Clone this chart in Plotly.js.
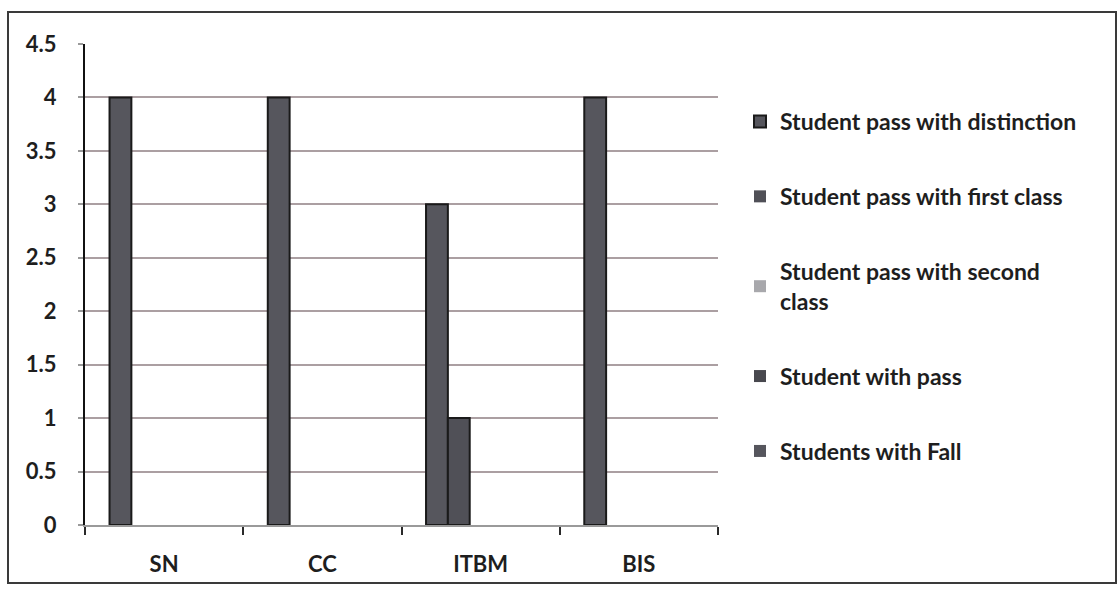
<!DOCTYPE html>
<html>
<head>
<meta charset="utf-8">
<script src="https://cdn.plot.ly/plotly-3.0.1.min.js"></script>
<style>
  html, body { margin: 0; padding: 0; background: #ffffff; }
  #chart { width: 1120px; height: 591px; }
</style>
</head>
<body>
<div id="chart"></div>
<script>
// Categories (courses)
const categories = ["SN", "CC", "ITBM", "BIS"];

// Series names
const seriesNames = [
  "Student pass with distinction",
  "Student pass with first class",
  "Student pass with second<br>class",
  "Student with pass",
  "Students with Fall"
];

// Series values
const distinction = [4, 4, 3, 4];
const firstClass  = [0, 0, 1, 0];
const secondClass = [0, 0, 0, 0];
const withPass    = [0, 0, 0, 0];
const withFail    = [0, 0, 0, 0];

// Y tick values / labels
const yTickVals = [0, 0.5, 1, 1.5, 2, 2.5, 3, 3.5, 4, 4.5];
const yTickText = ["0", "0.5", "1", "1.5", "2", "2.5", "3", "3.5", "4", "4.5"];

const seriesValues = [distinction, firstClass, secondClass, withPass, withFail];
const seriesColors = ["#56565d", "#505057", "#a8a8ac", "#48484e", "#56565d"];

const traces = seriesValues.map((vals, i) => ({
  type: "bar",
  name: seriesNames[i],
  x: categories,
  y: vals,
  legendgroup: "g" + i,
  marker: {
    color: seriesColors[i],
    line: { color: "#1a1a1a", width: vals.map(v => (v === 0 ? 0 : 2)) }
  },
  hoverinfo: "x+y+name"
}));

const L = 85, R = 718, T = 44, B = 525, W = 1120, H = 591;
const pw = R - L, ph = B - T;
const px = v => (v - L) / pw;
const py = v => (B - v) / ph;

const layout = {
  width: W,
  height: H,
  margin: { l: L, r: W - R, t: T, b: H - B, pad: 0 },
  paper_bgcolor: "#ffffff",
  plot_bgcolor: "#ffffff",
  font: { family: "Lato, 'Open Sans', sans-serif", color: "#1e1e1e" },
  barmode: "group",
  bargap: 0.31,
  bargroupgap: 0,
  showlegend: true,
  legend: {
    x: px(740), y: py(100), xanchor: "left", yanchor: "top",
    font: { size: 23, color: "#1e1e1e", weight: 700 },
    tracegroupgap: 42,
    itemwidth: 30,
    bgcolor: "rgba(0,0,0,0)"
  },
  xaxis: {
    type: "category",
    showgrid: false,
    zeroline: false,
    showline: true,
    linecolor: "#9a9a9a",
    linewidth: 2,
    ticks: "outside",
    tickson: "boundaries",
    ticklen: 8,
    tickwidth: 2,
    tickcolor: "#2a2a2a",
    ticklabelstandoff: 19,
    tickfont: { size: 22, color: "#1e1e1e", weight: 700 },
    fixedrange: true
  },
  yaxis: {
    range: [0, 4.5],
    tickvals: yTickVals,
    ticktext: yTickText,
    showgrid: true,
    gridcolor: "#ab9fa2",
    gridwidth: 2,
    zeroline: false,
    showline: true,
    linecolor: "#111111",
    linewidth: 2,
    ticks: "outside",
    ticklen: 5,
    tickwidth: 2,
    tickcolor: "#9a9a9a",
    ticklabelstandoff: 17,
    tickfont: { size: 22, color: "#1e1e1e", weight: 700 },
    fixedrange: true
  },
  shapes: [{
    type: "rect", xref: "paper", yref: "paper",
    x0: px(8), x1: px(1116), y0: py(583), y1: py(12),
    line: { color: "#3a3a3a", width: 2 },
    fillcolor: "rgba(0,0,0,0)",
    layer: "below"
  }]
};

Plotly.newPlot("chart", traces, layout, { displayModeBar: false, staticPlot: true });
</script>
</body>
</html>
